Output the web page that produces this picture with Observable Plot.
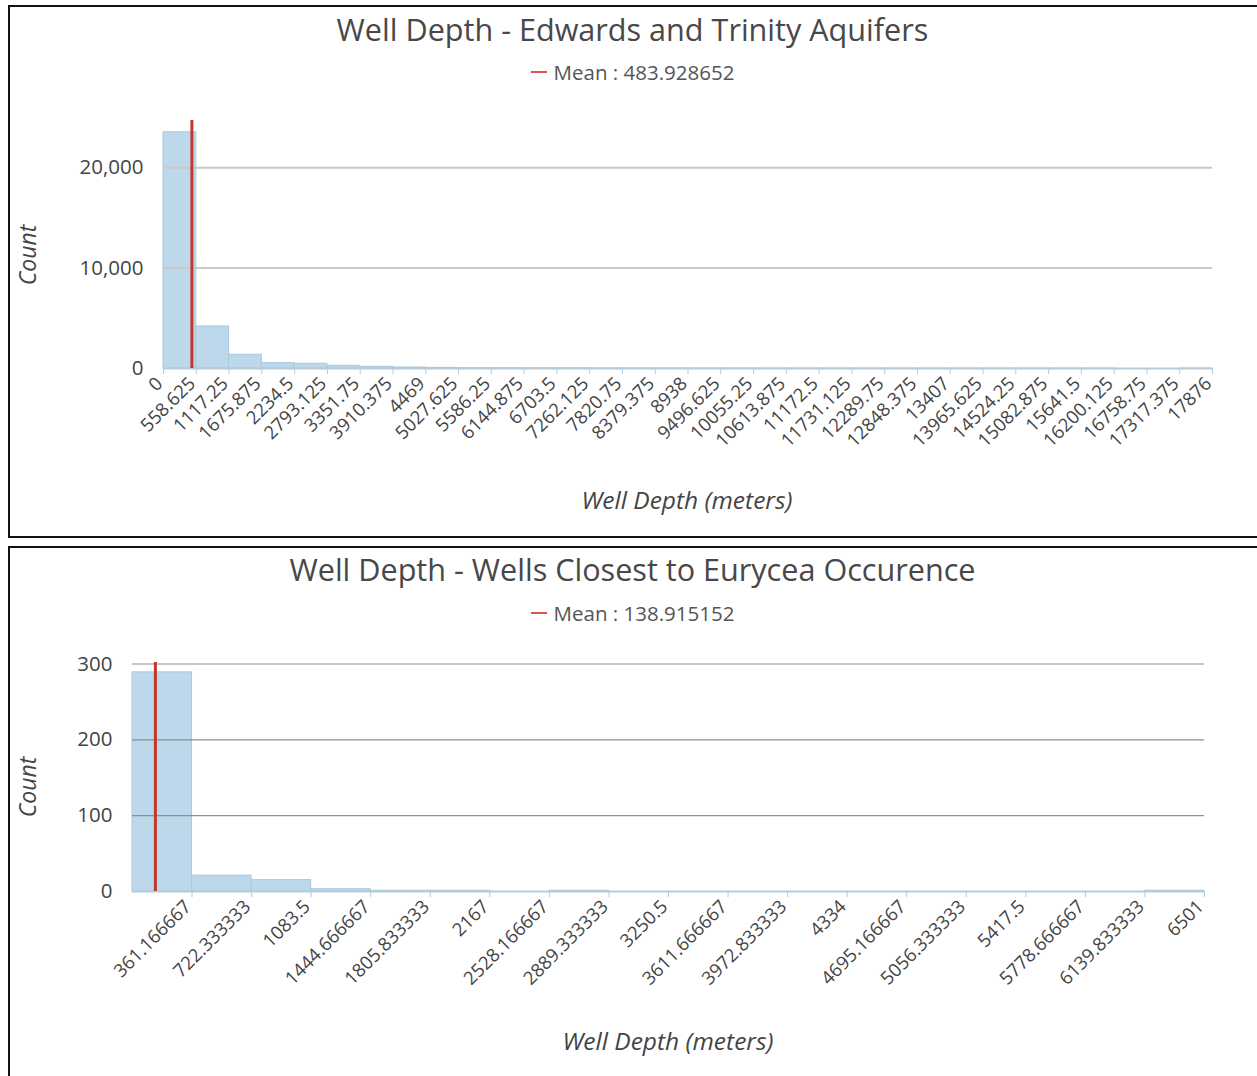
<!DOCTYPE html>
<html>
<head>
<meta charset="utf-8">
<script src="https://cdn.jsdelivr.net/npm/d3@7"></script>
<script src="https://cdn.jsdelivr.net/npm/@observablehq/plot@0.6"></script>
<style>
  html, body { margin: 0; padding: 0; background: #fff; }
  body { width: 1257px; height: 1076px; position: relative; overflow: hidden; font-family: "Open Sans", sans-serif; }
  .panel { position: absolute; box-sizing: border-box; border: 2px solid #111; border-right: none; }
  .title { position: absolute; left: 8px; width: 1249px; text-align: center; font-size: 30.6px; line-height: 38px; color: #484848; }
  .legend { position: absolute; left: 8px; width: 1249px; display: flex; justify-content: center; align-items: center; font-size: 20.5px; line-height: 26px; color: #555; }
  .legend .dash { display: inline-block; width: 16px; height: 2px; background: #d9584a; margin-right: 7px; }
  .ylab { position: absolute; font-size: 23px; font-style: italic; color: #444; transform: translate(-50%, -50%) rotate(-90deg); white-space: nowrap; }
  .xlab { position: absolute; font-size: 24.5px; font-style: italic; color: #444; transform: translate(-50%, -50%); white-space: nowrap; }
  .chart { position: absolute; left: 0; }
</style>
</head>
<body>
<script>
// ---------- Data: Edwards and Trinity Aquifers ----------
const title1 = "Well Depth - Edwards and Trinity Aquifers";
const mean1 = 483.928652;
const tickLabels1 = ["0","558.625","1117.25","1675.875","2234.5","2793.125","3351.75","3910.375","4469","5027.625","5586.25","6144.875","6703.5","7262.125","7820.75","8379.375","8938","9496.625","10055.25","10613.875","11172.5","11731.125","12289.75","12848.375","13407","13965.625","14524.25","15082.875","15641.5","16200.125","16758.75","17317.375","17876"];
const counts1 = [23530, 4190, 1370, 540, 470, 270, 170, 100, 60, 40, 30, 20, 15, 10, 8, 6, 5, 4, 3, 3, 2, 2, 2, 1, 1, 1, 1, 1, 1, 0, 0, 1];
const yTicks1 = [0, 10000, 20000];
const yMax1 = 24700;

// ---------- Data: Wells Closest to Eurycea Occurence ----------
const title2 = "Well Depth - Wells Closest to Eurycea Occurence";
const mean2 = 138.915152;
const tickLabels2 = ["361.166667","722.333333","1083.5","1444.666667","1805.833333","2167","2528.166667","2889.333333","3250.5","3611.666667","3972.833333","4334","4695.166667","5056.333333","5417.5","5778.666667","6139.833333","6501"];
const counts2 = [289, 21, 15, 3, 1, 1, 0, 1, 0, 0, 0, 0, 0, 0, 0, 0, 0, 1];
const yTicks2 = [0, 100, 200, 300];
const yMax2 = 302;

const xLabel = "Well Depth (meters)";
const yLabel = "Count";

function addDiv(cls, text, styles) {
  const d = document.createElement("div");
  d.className = cls;
  if (text != null) d.textContent = text;
  Object.assign(d.style, styles);
  document.body.appendChild(d);
  return d;
}

function histogram({edges, counts, labelOf, ticks, yTicks, yMax, mean, width, height, margins, gridStroke, gridWidth}) {
  const bins = counts.map((c, i) => ({x1: edges[i], x2: edges[i + 1], count: c}));
  return Plot.plot({
    width, height,
    marginLeft: margins[3], marginRight: margins[1], marginTop: margins[0], marginBottom: margins[2],
    style: {fontFamily: "Open Sans, sans-serif", background: "transparent", color: "#444", overflow: "visible"},
    x: {domain: [edges[0], edges[edges.length - 1]]},
    y: {domain: [0, yMax]},
    marks: [
      Plot.rectY(bins, {x1: "x1", x2: "x2", y: "count", fill: "#bcd8ea", stroke: "#a9c9de", strokeWidth: 1}),
      Plot.gridY(yTicks.filter(d => d > 0), {stroke: gridStroke, strokeOpacity: 1, strokeWidth: gridWidth}),
      Plot.ruleY([0], {stroke: "#b7cbdb", strokeWidth: 2}),
      Plot.axisY({ticks: yTicks, tickFormat: d3.format(","), tickSize: 0, tickPadding: 20, fontSize: 20.5, fill: "#444", label: null}),
      // tick marks only
      Plot.axisX({ticks, tickFormat: () => "", tickSize: 6, stroke: "#b7cbdb", label: null}),
      // rotated tick labels
      Plot.axisX({ticks, tickFormat: labelOf, tickRotate: -45, tickSize: 0, tickPadding: 12, fontSize: 18.5, fill: "#444", label: null, dx: -4, dy: 0}),
      Plot.ruleX([mean], {stroke: "#c0392b", strokeWidth: 3})
    ]
  });
}

// Panel frames
addDiv("panel", null, {left: "8px", top: "5px", width: "1260px", height: "533px"});
addDiv("panel", null, {left: "8px", top: "546px", width: "1260px", height: "600px"});

// Panel 1
{
  const edges = tickLabels1.map(Number);
  const map = new Map(edges.map((e, i) => [e, tickLabels1[i]]));
  const svg = histogram({
    edges, counts: counts1, labelOf: d => map.get(d) ?? "", ticks: edges,
    yTicks: yTicks1, yMax: yMax1, mean: mean1,
    width: 1257, height: 537, margins: [120, 45, 169, 163],
    gridStroke: "#c9c9c9", gridWidth: 2
  });
  svg.classList.add("chart");
  svg.style.top = "0px";
  document.body.appendChild(svg);
  addDiv("title", title1, {top: "10px"});
  const lg = addDiv("legend", null, {top: "59px"});
  lg.innerHTML = '<span class="dash"></span><span>Mean : ' + mean1 + '</span>';
  addDiv("ylab", yLabel, {left: "27px", top: "255px"});
  addDiv("xlab", xLabel, {left: "687px", top: "499px"});
}

// Panel 2
{
  const edges = [0].concat(tickLabels2.map(Number));
  const map = new Map(tickLabels2.map(l => [Number(l), l]));
  const svg = histogram({
    edges, counts: counts2, labelOf: d => map.get(d) ?? "", ticks: edges.slice(1),
    yTicks: yTicks2, yMax: yMax2, mean: mean2,
    width: 1257, height: 529, margins: [115, 53, 185, 132],
    gridStroke: "#8f8f8f", gridWidth: 1.2
  });
  svg.classList.add("chart");
  svg.style.top = "547px";
  document.body.appendChild(svg);
  addDiv("title", title2, {top: "550px"});
  const lg = addDiv("legend", null, {top: "600px"});
  lg.innerHTML = '<span class="dash"></span><span>Mean : ' + mean2 + '</span>';
  addDiv("ylab", yLabel, {left: "27px", top: "787px"});
  addDiv("xlab", xLabel, {left: "668px", top: "1040px"});
}
</script>
</body>
</html>
